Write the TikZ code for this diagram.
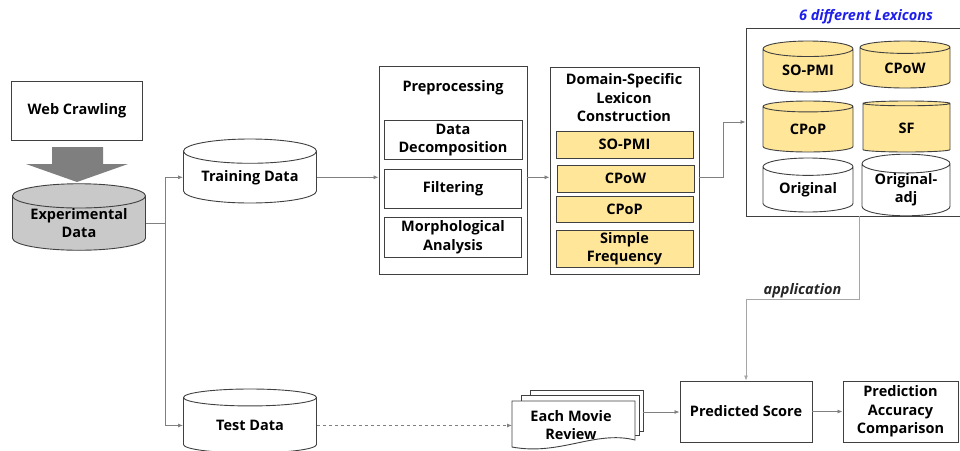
\documentclass[tikz,border=0pt]{standalone}
\usepackage{fontspec}
\setmainfont{Open Sans}
\usetikzlibrary{shapes.geometric,arrows.meta,calc}
\definecolor{boxline}{HTML}{404040}
\definecolor{linkgray}{HTML}{808080}
\definecolor{applgray}{HTML}{A6A6A6}
\definecolor{lexyellow}{HTML}{FFE699}
\definecolor{expgray}{HTML}{C9C9C9}
\definecolor{arrowgray}{HTML}{7F7F7F}
\definecolor{titleblue}{HTML}{1F1FEB}
\tikzset{
  lbl/.style={font=\bfseries\fontsize{14.5}{18.5}\selectfont, align=center, inner sep=0pt},
  box/.style={lbl, draw=boxline, line width=0.9pt},
  ybox/.style={box, fill=lexyellow},
  dbase/.style={lbl, cylinder, shape border rotate=90, draw=boxline,
    line width=0.9pt, aspect=0.25, anchor=shape center},
  lexdb/.style={dbase, aspect=0.3, minimum width=90pt, minimum height=51pt},
  link/.style={draw=linkgray, line width=0.8pt, -{Latex[length=5pt,width=4pt]}},
}
\begin{document}
\begin{tikzpicture}[x=1pt,y=-1pt]
\useasboundingbox (0,0) rectangle (960,450);
% sources
\node[box, minimum width=131pt, minimum height=59pt] (web) at (77,111) {Web Crawling};
\fill[arrowgray] (52,147) -- (103,147) -- (103,164) -- (128,164) -- (77,182)
  -- (26,164) -- (52,164) -- cycle;
\node[dbase, fill=expgray, minimum width=133pt, minimum height=63pt] (exp) at (79,217) {Experimental\\Data};
\node[dbase, fill=white, minimum width=133pt, minimum height=64pt] (train) at (250,171) {Training Data};
\node[dbase, fill=white, minimum width=133pt, minimum height=64pt] (test) at (250,421) {Test Data};
\draw[link] (exp.east) -- ++(19,0) |- (train.west);
\draw[link] (exp.east) -- ++(19,0) |- (test.west);
% preprocessing
\node[box, minimum width=148pt, minimum height=208pt] (pre) at (453,170) {};
\node[lbl] (pretitle) at (453,88) {Preprocessing};
\node[box, minimum width=138pt, minimum height=39pt] (decomp) at (453,140) {Data\\Decomposition};
\node[box, minimum width=137pt, minimum height=39pt] (filt) at (453,189) {Filtering};
\node[box, minimum width=137pt, minimum height=40pt] (morph) at (453,237) {Morphological\\Analysis};
\draw[link] (train.east) -- (train.east -| pre.west);
% lexicon construction
\node[box, minimum width=149pt, minimum height=207pt] (dom) at (624.5,170.5) {};
\node[lbl] (domtitle) at (624,98) {Domain-Specific\\Lexicon\\Construction};
\node[ybox, minimum width=137pt, minimum height=27pt] (sopmi) at (624.5,144.5) {SO-PMI};
\node[ybox, minimum width=137pt, minimum height=27pt] (cpow) at (625.5,178.5) {CPoW};
\node[ybox, minimum width=137pt, minimum height=26pt] (cpop) at (624.5,209) {CPoP};
\node[ybox, minimum width=137pt, minimum height=37pt] (simfreq) at (624.5,248.5) {Simple\\Frequency};
\draw[link] (pre.east |- train.east) -- (dom.west |- train.east);
% six lexicons
\node[box, minimum width=216pt, minimum height=188pt] (lex) at (854,122) {};
\node[lbl, font=\bfseries\itshape\fontsize{14.5}{18}\selectfont, text=titleblue] (lextitle) at (866,17) {6 different Lexicons};
\node[lexdb, fill=lexyellow] (lsopmi) at (808,66.5) {SO-PMI};
\node[lexdb, fill=lexyellow, minimum height=47pt] (lcpow) at (905,64.5) {CPoW};
\node[lexdb, fill=lexyellow] (lcpop) at (808,126.5) {CPoP};
\node[lexdb, fill=lexyellow, minimum width=87pt] (lsf) at (906.5,126.5) {SF};
\node[lexdb, fill=white, minimum height=54pt] (lorig) at (808,185) {Original};
\node[lexdb, fill=white, minimum width=88pt, minimum height=54pt] (ladj) at (906,185) {Original-\\adj};
\draw[link] (dom.east |- train.east) -- ++(24,0) |- (lex.west);
% evaluation
\node[box, minimum width=132pt, minimum height=61pt] (pred) at (746,411.5) {Predicted Score};
\node[box, minimum width=115pt, minimum height=61pt] (acc) at (900.5,411.5) {Prediction\\Accuracy\\Comparison};
\draw[link, draw=applgray] ([xshift=5pt]lex.south) -- ++(0,83) -| (pred.north)
  node[pos=0.25, above=1pt, lbl, font=\bfseries\itshape\fontsize{14.5}{18}\selectfont, text=black!85] {application};
% stacked review pages
\draw[boxline, line width=0.9pt, fill=white] (530,396) -- (530,390) -- (643,390) -- (643,431) -- (639,431);
\draw[boxline, line width=0.9pt, fill=white] (521,401) -- (521,395) -- (639,395) -- (639,435) -- (635,435);
\draw[boxline, line width=0.9pt, fill=white] (512,401) -- (635,401) -- (635,440)
  .. controls (595,430) and (560,456) .. (512,447) -- cycle;
\node[lbl] (review) at (571,425) {Each Movie\\Review};
\coordinate (revback) at (643,412);
\draw[link, dashed] (test.east) -- (test.east -| 512,0);
\draw[link] (revback) -- (revback -| pred.west);
\draw[link] (pred.east) -- (acc.west);
\end{tikzpicture}
\end{document}
